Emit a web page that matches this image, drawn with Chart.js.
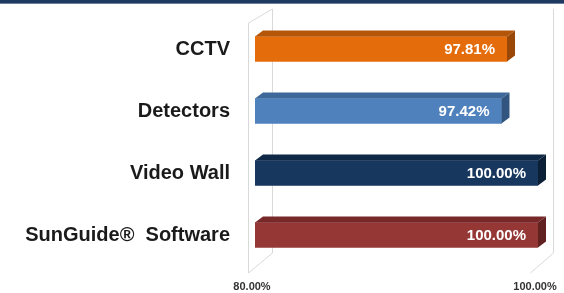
<!DOCTYPE html>
<html>
<head>
<meta charset="utf-8">
<script src="https://cdn.jsdelivr.net/npm/chart.js@4.4.1/dist/chart.umd.min.js"></script>
<style>
  html, body { margin: 0; padding: 0; background: #fff; }
  #wrap { position: relative; width: 564px; height: 293px; }
  #band { position: absolute; left: 0; top: 0; width: 564px; height: 3px; background: #1f3a60; border-bottom: 1px solid #6b7f9c; }
</style>
</head>
<body>
<div id="wrap">
  <canvas id="c" width="564" height="293"></canvas>
  <div id="band"></div>
</div>
<script>
// ── Data ─────────────────────────────────────────────────────────────────────
const categories = ["CCTV", "Detectors", "Video Wall", "SunGuide®  Software"];
const values     = [97.81, 97.42, 100.00, 100.00];
const axisTicks  = [80, 100];

// front / top / side shades for the fake 3D bars
const frontColors = ["#e46c0a", "#4f81bd", "#17375e", "#953735"];
const topColors   = ["#b4560a", "#3d6899", "#0f2845", "#77292a"];
const sideColors  = ["#9a4808", "#31557f", "#0b1f37", "#622121"];

const DX = 8, DY = 6;   // bar depth offset

// ── Walls of the 3D plot box ──────────────────────────────────────────────────
const wallsPlugin = {
  id: "walls",
  beforeDatasetsDraw(chart) {
    const { ctx, chartArea: a } = chart;
    const fl = a.left - 7, bl = a.left + 17, br = a.right + 15, fr = a.right - 8;
    const ft = a.top + 5, bt = a.top - 9, fb = a.bottom + 7, bb = a.bottom - 13;
    ctx.save();
    ctx.strokeStyle = "#d9d9d9";
    ctx.lineWidth = 1;
    ctx.beginPath();
    ctx.moveTo(fl + 0.5, ft); ctx.lineTo(fl + 0.5, fb);
    ctx.moveTo(bl + 0.5, bt); ctx.lineTo(bl + 0.5, bb);
    ctx.moveTo(fl + 0.5, ft); ctx.lineTo(bl + 0.5, bt);
    ctx.moveTo(fl + 0.5, fb); ctx.lineTo(bl + 0.5, bb);
    ctx.moveTo(br + 0.5, bt); ctx.lineTo(br + 0.5, bb);
    ctx.lineTo(fr + 0.5, fb);
    ctx.stroke();
    ctx.restore();
  }
};

// ── 3D faces + value labels ───────────────────────────────────────────────────
const bars3dPlugin = {
  id: "bars3d",
  afterDatasetsDraw(chart) {
    const { ctx, chartArea: a } = chart;
    const meta = chart.getDatasetMeta(0);
    ctx.save();
    meta.data.forEach((bar, i) => {
      const x0 = Math.max(bar.base, a.left);
      const x1 = bar.x;
      const t = bar.y - bar.height / 2;
      const b = bar.y + bar.height / 2;
      // top face
      ctx.fillStyle = topColors[i];
      ctx.beginPath();
      ctx.moveTo(x0, t); ctx.lineTo(x0 + DX, t - DY);
      ctx.lineTo(x1 + DX, t - DY); ctx.lineTo(x1, t);
      ctx.closePath(); ctx.fill();
      // side face
      ctx.fillStyle = sideColors[i];
      ctx.beginPath();
      ctx.moveTo(x1, t); ctx.lineTo(x1 + DX, t - DY);
      ctx.lineTo(x1 + DX, b - DY); ctx.lineTo(x1, b);
      ctx.closePath(); ctx.fill();
      // value label
      ctx.fillStyle = "#ffffff";
      ctx.font = "bold 15px 'Liberation Sans', Arial, sans-serif";
      ctx.textAlign = "right";
      ctx.textBaseline = "middle";
      ctx.fillText(values[i].toFixed(2) + "%", x1 - 12, bar.y + 1);
    });
    ctx.restore();
  }
};

// ── Chart ────────────────────────────────────────────────────────────────────
new Chart(document.getElementById("c"), {
  type: "bar",
  data: {
    labels: categories,
    datasets: [{
      data: values,
      backgroundColor: frontColors,
      borderWidth: 0,
      barThickness: 25,
    }]
  },
  options: {
    indexAxis: "y",
    animation: false,
    responsive: false,
    layout: { padding: { top: 18, right: 26, left: 0, bottom: 0 } },
    scales: {
      x: {
        min: axisTicks[0],
        max: axisTicks[1],
        grid: { display: false, drawTicks: false },
        border: { display: false },
        afterFit: (s) => { s.height = 27; s.paddingLeft = 0; s.paddingRight = 0; },
        afterBuildTicks: (s) => { s.ticks = axisTicks.map(v => ({ value: v })); },
        ticks: {
          padding: 14,
          labelOffset: -3,
          color: "#333",
          font: { family: "'Liberation Sans', Arial, sans-serif", size: 11, weight: "bold" },
          callback: (v) => v.toFixed(2) + "%",
        }
      },
      y: {
        grid: { display: false, drawTicks: false },
        border: { display: false },
        afterFit: (s) => { s.width = 255; s.paddingTop = 0; s.paddingBottom = 0; },
        ticks: {
          padding: 25,
          color: "#1a1a1a",
          font: { family: "'Liberation Sans', Arial, sans-serif", size: 20, weight: "bold" },
        }
      }
    },
    plugins: { legend: { display: false }, tooltip: { enabled: false } }
  },
  plugins: [wallsPlugin, bars3dPlugin]
});
</script>
</body>
</html>
